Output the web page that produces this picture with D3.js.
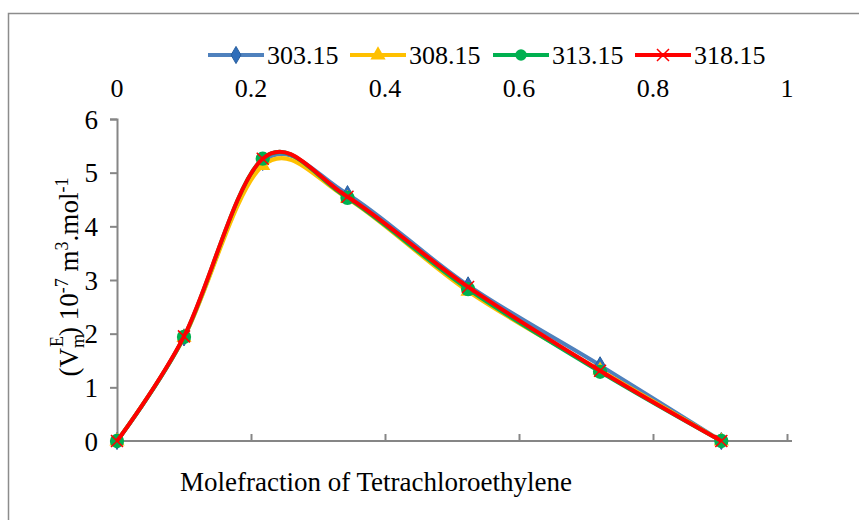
<!DOCTYPE html>
<html lang="en">
<head>
    <meta charset="UTF-8">
    <title>Excess molar volume</title>
    <script src="https://d3js.org/d3.v7.min.js"></script>
    <style>
        body { margin: 0; background: #fff; }
        svg text { font-family: "Liberation Serif", serif; fill: #000; }
    </style>
</head>
<body>
<div id="chart"></div>

<script type="text/javascript">
    // mole fraction of tetrachloroethylene
    var xFrac = [0, 0.100, 0.2175, 0.344, 0.524, 0.721, 0.902];
    var temps = ["303.15", "308.15", "313.15", "318.15"];
    var v303 = [0, 1.93, 5.20, 4.60, 2.90, 1.41, 0];
    var v308 = [0, 1.93, 5.13, 4.52, 2.79, 1.32, 0];
    var v313 = [0, 1.94, 5.26, 4.53, 2.83, 1.29, 0];
    var v318 = [0, 1.95, 5.26, 4.55, 2.87, 1.31, 0];
    var xTicks = [0, 0.2, 0.4, 0.6, 0.8, 1];
    var yTicks = [0, 1, 2, 3, 4, 5, 6];

    var width = 859;
    var height = 520;
    var serif = "Liberation Serif";

    var svg = d3.select("#chart")
        .append("svg")
        .attr("width", width)
        .attr("height", height);

    // chart area border
    svg.append("rect")
        .attr("x", 8.5).attr("y", 13.5)
        .attr("width", 900).attr("height", 600)
        .attr("fill", "none")
        .attr("stroke", "#8c8c8c")
        .attr("stroke-width", 1.5);

    var x = d3.scaleLinear().domain([0, 1]).range([117, 787]);
    var y = d3.scaleLinear().domain([0, 6]).range([441, 119]);

    var axisColor = "#868686";

    // y axis
    var yAxis = svg.append("g")
        .attr("transform", "translate(" + x(0) + ",0)")
        .call(d3.axisLeft(y).tickValues(yTicks).tickSize(7).tickFormat(d3.format("d")));
    yAxis.attr("font-family", serif);
    yAxis.select(".domain").attr("stroke", axisColor).attr("stroke-width", 2);
    yAxis.selectAll(".tick line").attr("stroke", axisColor).attr("stroke-width", 2);
    yAxis.selectAll(".tick text")
        .attr("x", -19).attr("dy", "0.34em")
        .attr("font-family", serif)
        .style("font-size", "27px");

    // x axis, ticks pointing up, labels at the top
    var xAxis = svg.append("g")
        .attr("transform", "translate(0," + y(0) + ")")
        .call(d3.axisTop(x).tickValues(xTicks).tickSize(7).tickFormat(""));
    xAxis.select(".domain").attr("stroke", axisColor).attr("stroke-width", 2)
        .attr("d", "M" + x(0) + ",0H" + (x(1) + 5));
    xAxis.selectAll(".tick line").attr("stroke", axisColor).attr("stroke-width", 2);

    svg.append("g").selectAll("text")
        .data(xTicks)
        .join("text")
        .attr("x", function(d) { return x(d); })
        .attr("y", 97)
        .attr("text-anchor", "middle")
        .attr("font-family", serif)
        .style("font-size", "26px")
        .text(function(d) { return d3.format("")(d); });

    // axis titles
    svg.append("text")
        .attr("x", 376).attr("y", 491)
        .attr("text-anchor", "middle")
        .attr("font-family", serif)
        .style("font-size", "27px")
        .text("Molefraction of Tetrachloroethylene");

    var yl = svg.append("text")
        .attr("transform", "translate(78,277) rotate(-90)")
        .attr("text-anchor", "middle")
        .attr("font-family", serif)
        .style("font-size", "27px");
    yl.append("tspan").text("(V");
    yl.append("tspan").attr("dy", 6).style("font-size", "18px").text("m");
    yl.append("tspan").attr("dx", -13).attr("dy", -21).style("font-size", "18px").text("E");
    yl.append("tspan").attr("dy", 15).text(") 10");
    yl.append("tspan").attr("dy", -10).style("font-size", "18px").text("-7");
    yl.append("tspan").attr("dy", 10).text(" m");
    yl.append("tspan").attr("dy", -10).style("font-size", "18px").text("3");
    yl.append("tspan").attr("dy", 10).text(".mol");
    yl.append("tspan").attr("dy", -10).style("font-size", "18px").text("-1");

    var series = [
        {name: temps[0], values: v303, line: "#4f81bd", fill: "#2f6eba", marker: "diamond"},
        {name: temps[1], values: v308, line: "#ffc000", fill: "#ffc000", marker: "triangle"},
        {name: temps[2], values: v313, line: "#00b050", fill: "#00b050", marker: "circle"},
        {name: temps[3], values: v318, line: "#ff0000", fill: "#ff0000", marker: "x"}
    ];

    var line = d3.line()
        .x(function(d) { return x(d[0]); })
        .y(function(d) { return y(d[1]); })
        .curve(d3.curveCatmullRom.alpha(0));

    function drawMarker(g, type, cx, cy, s) {
        if (type === "x") {
            var r = 6 * s;
            g.append("path")
                .attr("d", "M" + (cx - r) + "," + (cy - r) + "L" + (cx + r) + "," + (cy + r) +
                    "M" + (cx - r) + "," + (cy + r) + "L" + (cx + r) + "," + (cy - r))
                .attr("stroke", "#ff0000").attr("stroke-width", 1.5);
            return;
        }
        var sym = {diamond: d3.symbolDiamond, triangle: d3.symbolTriangle, circle: d3.symbolCircle}[type];
        var size = {diamond: 85, triangle: 100, circle: 160}[type] * s * s;
        return g.append("path")
            .attr("d", d3.symbol().type(sym).size(size)())
            .attr("transform", "translate(" + cx + "," + cy + ")");
    }

    series.forEach(function(s) {
        var pts = xFrac.map(function(v, i) { return [v, s.values[i]]; });
        var g = svg.append("g");
        g.append("path")
            .attr("d", line(pts))
            .attr("fill", "none")
            .attr("stroke", s.line)
            .attr("stroke-width", 4);
        pts.forEach(function(p) {
            var m = drawMarker(g, s.marker, x(p[0]), y(p[1]), 1);
            if (m) m.attr("fill", s.fill).attr("stroke", s.marker === "diamond" ? "#2a5f9e" : "none");
        });
    });

    // legend
    var legendX = [208, 350, 493, 635];
    series.forEach(function(s, i) {
        var g = svg.append("g");
        var lx = legendX[i];
        g.append("line")
            .attr("x1", lx).attr("x2", lx + 56)
            .attr("y1", 55).attr("y2", 55)
            .attr("stroke", s.line).attr("stroke-width", 4);
        var m = drawMarker(g, s.marker, lx + 28, 55, s.marker === "circle" ? 0.8 : 1);
        if (m) m.attr("fill", s.fill).attr("stroke", s.marker === "diamond" ? "#2a5f9e" : "none");
        g.append("text")
            .attr("x", lx + 59).attr("y", 64)
            .attr("font-family", serif)
            .style("font-size", "26px")
            .text(s.name);
    });
</script>
</body>
</html>
